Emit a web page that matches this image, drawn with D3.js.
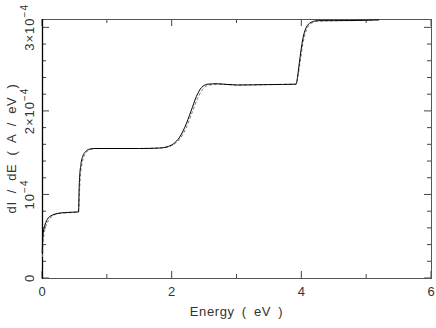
<!DOCTYPE html>
<html>
<head>
<meta charset="utf-8">
<script src="https://cdn.jsdelivr.net/npm/d3@7"></script>
<style>
  body { margin: 0; background: #fff; }
  text { font-family: "Liberation Sans", Arial, sans-serif; fill: #333; }
</style>
</head>
<body>
<svg id="chart" width="436" height="328"></svg>
<script>
// energy (eV) and dI/dE (units of 1e-4 A/eV), solid curve
const energy = [0.003, 0.01, 0.02, 0.04, 0.08, 0.14, 0.2, 0.3, 0.4, 0.55, 0.565, 0.57, 0.58, 0.6, 0.63, 0.67, 0.72, 0.8,
  1.0, 1.5, 1.8, 1.95, 2.05, 2.1, 2.2, 2.3, 2.38, 2.46, 2.56, 2.7, 3.0, 3.5, 3.92, 3.94, 3.97, 4.02, 4.07, 4.15, 4.25,
  4.5, 5.0, 5.2]
const current = [0.30, 0.45, 0.55, 0.62, 0.70, 0.745, 0.765, 0.78, 0.785, 0.79, 0.79, 1.0, 1.2, 1.36, 1.46, 1.51, 1.54, 1.55,
  1.55, 1.55, 1.555, 1.575, 1.62, 1.66, 1.80, 2.00, 2.17, 2.28, 2.32, 2.325, 2.31, 2.315, 2.32, 2.40, 2.58, 2.85, 2.99, 3.06, 3.08,
  3.08, 3.085, 3.09]

// dashed (smoothed) curve
const energyDash = [0.005, 0.015, 0.03, 0.06, 0.1, 0.16, 0.25, 0.4, 0.55, 0.57, 0.58, 0.59, 0.61, 0.64, 0.68, 0.74, 0.82,
  1.0, 1.5, 1.8, 1.95, 2.06, 2.12, 2.22, 2.32, 2.4, 2.48, 2.58, 2.72, 3.0, 3.5, 3.92, 3.95, 3.98, 4.03, 4.08, 4.16, 4.27,
  4.5, 5.0, 5.2]
const currentDash = [0.25, 0.40, 0.52, 0.62, 0.69, 0.74, 0.77, 0.78, 0.79, 0.86, 1.05, 1.2, 1.34, 1.44, 1.50, 1.535, 1.548,
  1.55, 1.55, 1.555, 1.57, 1.615, 1.66, 1.79, 1.99, 2.15, 2.26, 2.31, 2.32, 2.31, 2.315, 2.32, 2.42, 2.58, 2.83, 2.97, 3.05, 3.075,
  3.08, 3.085, 3.09]

const xTicks = [0, 2, 4, 6]
const xMinor = [1, 3, 5]
const yTicks = [0, 1, 2, 3]
const yTickLabels = [["0", ""], ["10", "\u22124"], ["2\u00d710", "\u22124"], ["3\u00d710", "\u22124"]]
const yMinor = d3.range(0.2, 3.1, 0.2).filter(v => Math.abs(v - Math.round(v)) > 0.05)

const svg = d3.select('#chart')
const m = { left: 42, right: 431, top: 19, bottom: 278 }

const x = d3.scaleLinear().domain([0, 6]).range([m.left, m.right])
const y = d3.scaleLinear().domain([0, 3.1]).range([m.bottom, m.top])

const g = svg.append('g')

// inward ticks on all four sides
const tick = (x1, y1, x2, y2) => g.append('line')
    .attr('x1', x1).attr('y1', y1).attr('x2', x2).attr('y2', y2)
    .attr('stroke', '#444').attr('stroke-width', 1)

xTicks.forEach(v => {
    tick(x(v), m.bottom, x(v), m.bottom - 7)
    tick(x(v), m.top, x(v), m.top + 7)
})
xMinor.forEach(v => {
    tick(x(v), m.bottom, x(v), m.bottom - 4)
    tick(x(v), m.top, x(v), m.top + 4)
})
yTicks.forEach(v => {
    tick(m.left, y(v), m.left + 7, y(v))
    tick(m.right, y(v), m.right - 7, y(v))
})
yMinor.forEach(v => {
    tick(m.left, y(v), m.left + 4, y(v))
    tick(m.right, y(v), m.right - 4, y(v))
})

// frame
g.append('rect')
    .attr('x', m.left + 0.5).attr('y', m.top + 0.5)
    .attr('width', m.right - m.left).attr('height', m.bottom - m.top)
    .attr('fill', 'none').attr('stroke', '#555').attr('stroke-width', 1)
g.append('line')
    .attr('x1', m.left + 0.5).attr('x2', m.left + 0.5)
    .attr('y1', m.top).attr('y2', m.bottom + 1)
    .attr('stroke', '#000').attr('stroke-width', 1.3)

// curves
const line = d3.line().curve(d3.curveMonotoneX)
    .x(d => x(d[0]))
    .y(d => y(d[1]))

g.append('path')
    .datum(energyDash.map((e, i) => [e, currentDash[i]]))
    .attr('d', line)
    .attr('fill', 'none').attr('stroke', '#777')
    .attr('stroke-width', 1).attr('stroke-dasharray', '3,2')

g.append('path')
    .datum(energy.map((e, i) => [e, current[i]]))
    .attr('d', line)
    .attr('fill', 'none').attr('stroke', '#000')
    .attr('stroke-width', 1)

// x tick labels
g.selectAll('.xl')
  .data(xTicks)
  .join('text')
    .attr('x', d => x(d))
    .attr('y', 296)
    .attr('text-anchor', 'middle')
    .attr('font-size', 13)
    .text(d => d)

// y tick labels, rotated
yTicks.forEach((v, i) => {
    const t = g.append('text')
        .attr('transform', `translate(34,${y(v)}) rotate(-90)`)
        .attr('text-anchor', 'middle')
        .attr('font-size', 13)
        .attr('letter-spacing', 1)
    t.append('tspan').text(yTickLabels[i][0])
    if (yTickLabels[i][1]) {
        t.append('tspan').attr('dy', -6).attr('font-size', 10).text(yTickLabels[i][1])
    }
})

// axis titles
g.append('text')
    .attr('x', (m.left + m.right) / 2)
    .attr('y', 316)
    .attr('text-anchor', 'middle')
    .attr('font-size', 13)
    .attr('letter-spacing', 0.6)
    .attr('word-spacing', 3)
    .text('Energy ( eV )')

g.append('text')
    .attr('transform', `translate(16,${(m.top + m.bottom) / 2}) rotate(-90)`)
    .attr('text-anchor', 'middle')
    .attr('font-size', 13)
    .attr('letter-spacing', 0.6)
    .attr('word-spacing', 4)
    .text('dI / dE ( A / eV )')
</script>
</body>
</html>
